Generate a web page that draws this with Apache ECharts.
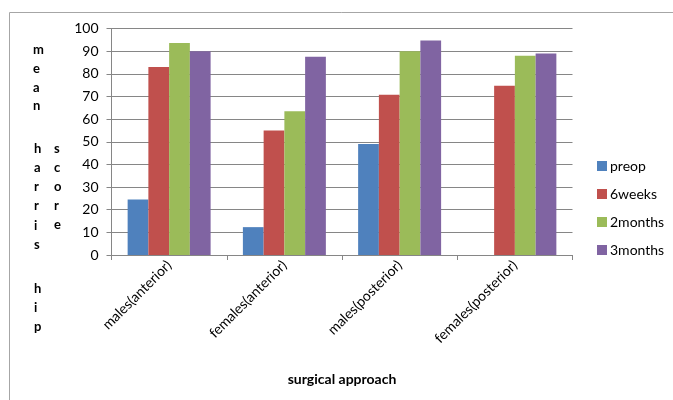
<!DOCTYPE html>
<html>
<head>
<meta charset="utf-8">
<script src="https://cdn.jsdelivr.net/npm/echarts@6/dist/echarts.min.js"></script>
<style>
  html, body { margin: 0; padding: 0; background: #fff; }
  #chart { width: 673px; height: 400px; }
</style>
</head>
<body>
<div id="chart"></div>
<script>
// data
var categories = ['males(anterior)', 'females(anterior)', 'males(posterior)', 'females(posterior)'];
var seriesNames = ['preop', '6weeks', '2months', '3months'];
var preop = [24.5, 12.3, 49, null];
var weeks6 = [83, 55, 70.7, 74.7];
var months2 = [93.6, 63.5, 90, 88];
var months3 = [90, 87.5, 94.7, 89];
var yTicks = [0, 100, 10]; // min, max, interval

var colors = ['#4F81BD', '#C0504D', '#9BBB59', '#8064A2'];
var font = 'Lato, "Open Sans", sans-serif';

var myChart = echarts.init(document.getElementById('chart'));

var seriesData = [preop, weeks6, months2, months3];
var series = seriesData.map(function (d, i) {
    return {
        name: seriesNames[i],
        type: 'bar',
        barGap: '0%',
        barCategoryGap: '28%',
        itemStyle: { color: colors[i] },
        data: d
    };
});

var titleStyle = { font: 'bold 13px ' + font, fill: '#000', align: 'center' };

var option = {
    animation: false,
    color: colors,
    graphic: [
        // outer chart frame
        { type: 'rect', shape: { x: 9.5, y: 12.5, width: 680, height: 400 },
          style: { fill: 'none', stroke: '#a6a6a6', lineWidth: 1 } },
        // vertical stacked axis title
        { type: 'text', left: 33, top: 41, style: Object.assign({ text: 'm\ne\na\nn', lineHeight: 18.6 }, titleStyle) },
        { type: 'text', left: 34, top: 139, style: Object.assign({ text: 'h\na\nr\nr\ni\ns', lineHeight: 19.2 }, titleStyle) },
        { type: 'text', left: 34, top: 279, style: Object.assign({ text: 'h\ni\np', lineHeight: 19.2 }, titleStyle) },
        { type: 'text', left: 54, top: 139, style: Object.assign({ text: 's\nc\no\nr\ne', lineHeight: 19.0 }, titleStyle) }
    ],
    legend: {
        orient: 'vertical',
        left: 597,
        top: 159,
        padding: 0,
        itemWidth: 10,
        itemHeight: 10,
        itemGap: 14,
        icon: 'rect',
        textStyle: { fontFamily: font, fontSize: 14, color: '#000', padding: [0, 0, 0, -2] },
        data: seriesNames
    },
    grid: {
        left: 111.5,
        right: 100.5,
        top: 28.5,
        bottom: 145,
        containLabel: false
    },
    xAxis: {
        type: 'category',
        data: categories,
        name: 'surgical approach',
        nameLocation: 'middle',
        nameGap: 117,
        nameTextStyle: { fontFamily: font, fontSize: 14, fontWeight: 'bold', color: '#000' },
        axisLine: { lineStyle: { color: '#868686' } },
        axisTick: { show: true, length: 5, lineStyle: { color: '#868686' } },
        axisLabel: { rotate: 45, interval: 0, fontFamily: font, fontSize: 14, color: '#000', margin: 8 }
    },
    yAxis: {
        type: 'value',
        min: yTicks[0],
        max: yTicks[1],
        interval: yTicks[2],
        axisLine: { show: true, lineStyle: { color: '#868686' } },
        axisTick: { show: true, length: 5, lineStyle: { color: '#868686' } },
        axisLabel: { fontFamily: font, fontSize: 14, color: '#000', margin: 13 },
        splitLine: { lineStyle: { color: '#868686' } }
    },
    series: series
};

myChart.setOption(option);
</script>
</body>
</html>
